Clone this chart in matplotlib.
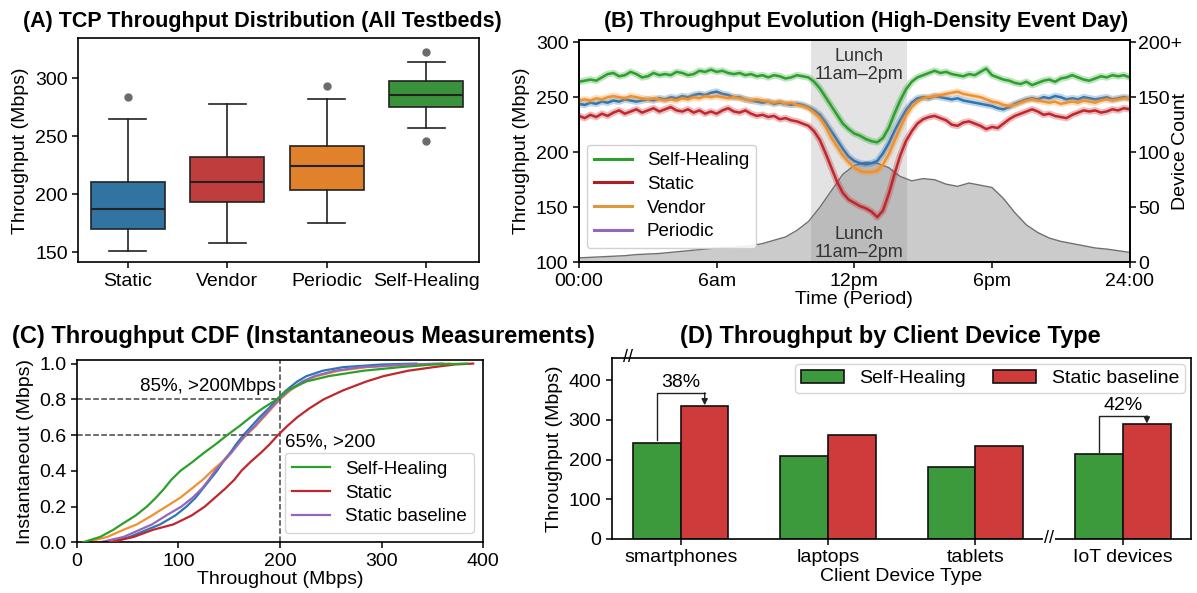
import numpy as np
import matplotlib
matplotlib.use("Agg")
import matplotlib.pyplot as plt
import matplotlib.patheffects as pe
from matplotlib.lines import Line2D

plt.rcParams['font.family'] = ['Liberation Sans', 'DejaVu Sans']
plt.rcParams['axes.linewidth'] = 1.2

# ---------------- Panel A data ----------------
box_labels = ["Static", "Vendor", "Periodic", "Self-Healing"]
box_whislo = [151, 158, 175, 257]
box_q1 = [170, 193, 204, 275]
box_med = [187, 211, 224, 286]
box_q3 = [211, 232, 242, 298]
box_whishi = [265, 278, 282, 314]
box_fliers = [[284], [], [293], [323, 246]]
box_colors = ["#3274a1", "#c03d3e", "#e1812c", "#3a923a"]

# ---------------- Panel B data ----------------
hours = np.arange(0, 24.01, 0.25)
sh_tp = [264, 265, 266, 265, 268, 271, 272, 269, 270, 273, 271, 268, 269, 272, 270, 271,
         270, 273, 272, 270, 271, 274, 273, 275, 273, 274, 272, 271, 272, 270, 271, 269,
         270, 268, 270, 269, 267, 268, 270, 269, 268, 264, 258, 250, 242, 234, 226, 221,
         217, 215, 212, 210, 209, 213, 222, 235, 247, 257, 264, 268, 270, 272, 274, 272,
         273, 271, 270, 269, 271, 270, 273, 276, 270, 268, 266, 265, 263, 262, 264, 261,
         263, 265, 266, 264, 267, 268, 270, 268, 266, 265, 267, 269, 268, 270, 269, 270, 268]
periodic_tp = [244, 243, 245, 244, 246, 245, 247, 246, 248, 247, 246, 247, 248, 247, 249, 248,
               250, 249, 251, 250, 252, 253, 252, 254, 255, 253, 252, 250, 250, 248, 247, 246,
               245, 246, 244, 245, 244, 243, 244, 243, 241, 238, 234, 227, 219, 211, 203, 196,
               192, 190, 189, 190, 192, 199, 208, 219, 229, 238, 245, 249, 250, 249, 251, 250,
               249, 248, 249, 247, 246, 245, 244, 243, 242, 240, 239, 241, 244, 246, 248, 249,
               248, 250, 249, 251, 250, 248, 249, 248, 250, 249, 248, 249, 250, 248, 249, 250, 249]
vendor_tp = [247, 248, 247, 249, 248, 250, 251, 250, 249, 251, 250, 249, 248, 249, 248, 247,
             248, 247, 249, 248, 250, 249, 251, 250, 251, 250, 249, 250, 249, 248, 247, 248,
             247, 246, 245, 246, 244, 245, 243, 242, 240, 236, 231, 223, 213, 205, 197, 191,
             186, 183, 182, 182, 183, 189, 198, 210, 222, 233, 241, 246, 249, 250, 251, 252,
             253, 254, 255, 253, 252, 251, 250, 248, 246, 245, 243, 242, 243, 245, 247, 248,
             247, 246, 245, 246, 244, 245, 246, 245, 247, 246, 245, 247, 248, 247, 248, 249, 249]
static_tp = [233, 231, 234, 232, 235, 233, 236, 238, 235, 237, 239, 236, 238, 240, 237, 239,
             241, 238, 237, 239, 236, 238, 235, 237, 235, 238, 240, 237, 236, 238, 235, 233,
             234, 232, 233, 230, 231, 229, 228, 226, 224, 219, 211, 199, 186, 173, 163, 157,
             154, 151, 149, 146, 141, 147, 162, 180, 197, 210, 219, 226, 230, 232, 233, 231,
             229, 225, 224, 227, 228, 226, 224, 221, 223, 222, 226, 230, 233, 235, 237, 239,
             237, 234, 235, 233, 232, 231, 234, 236, 238, 237, 238, 236, 237, 239, 238, 240, 239]
dev_hours = np.arange(0, 24.01, 0.5)
device_count = [4, 4.5, 5, 5.5, 6, 7, 7.5, 8, 9, 10, 11, 12, 13, 13.5, 14, 15, 17, 20, 23, 29,
                37, 50, 65, 80, 88, 91, 90, 86, 78, 74, 76, 75, 71, 69, 72, 70, 68, 58, 45, 34,
                27, 22, 19, 17, 15, 13, 12, 10.5, 9]
lunch_span = (10.1, 14.3)
time_ticks = [0, 6, 12, 18, 24]
time_labels = ["00:00", "6am", "12pm", "6pm", "24:00"]
dev_ticks = [0, 50, 100, 150, 200]
dev_labels = ["0", "50", "100", "150", "200+"]

# ---------------- Panel C data ----------------
cdf_levels = [0.0, 0.03, 0.07, 0.10, 0.15, 0.20, 0.25, 0.30, 0.35, 0.40, 0.45, 0.50, 0.55,
              0.60, 0.65, 0.70, 0.75, 0.80, 0.85, 0.90, 0.93, 0.96, 0.98, 0.995, 1.0]
cdf_selfheal = [6, 23, 36, 44, 58, 69, 78, 86, 93, 102, 114, 125, 137, 148, 160, 171, 183,
                197, 207, 226, 248, 282, 318, 351, 384]
cdf_blue = [33, 52, 69, 82, 97, 108, 117, 124, 131, 138, 144, 151, 157, 164, 172, 180, 189,
            197, 206, 217, 226, 242, 262, 300, 334]
cdf_orange = [10, 30, 46, 59, 74, 88, 102, 113, 124, 133, 143, 151, 158, 167, 176, 184, 192,
              200, 210, 224, 236, 258, 285, 330, 367]
cdf_baseline = [23, 46, 62, 74, 88, 103, 114, 123, 130, 136, 144, 152, 159, 166, 175, 183, 191,
                199, 209, 222, 234, 254, 280, 325, 360]
cdf_static = [33, 56, 75, 95, 113, 126, 136, 146, 155, 162, 171, 181, 190, 198, 207, 217, 229,
              243, 262, 285, 302, 326, 351, 372, 390]

# ---------------- Panel D data ----------------
device_types = ["smartphones", "laptops", "tablets", "IoT devices"]
selfheal_dev = [243, 209, 182, 213]
static_dev = [336, 261, 235, 290]

C_GREEN = "#2ca02c"
C_RED = "#c0272d"
C_ORANGE = "#f0912e"
C_BLUE = "#2f75b5"
C_PURPLE = "#9467bd"

fig = plt.figure(figsize=(11.97, 5.93), dpi=100)

TICK_FS = 14
LAB_FS = 14
TITLE_TOP_FS = 15.5
TITLE_BOT_FS = 17

# ================= Panel A =================
axA = fig.add_axes([0.0652, 0.5577, 0.335, 0.3777])
stats = []
for i in range(4):
    stats.append(dict(med=box_med[i], q1=box_q1[i], q3=box_q3[i], whislo=box_whislo[i],
                      whishi=box_whishi[i], fliers=box_fliers[i], label=box_labels[i]))
bp = axA.bxp(stats, positions=range(4), widths=0.74, patch_artist=True,
             boxprops=dict(edgecolor="#222222", linewidth=1.2),
             medianprops=dict(color="#222222", linewidth=1.5),
             whiskerprops=dict(color="#222222", linewidth=1.2),
             capprops=dict(color="#222222", linewidth=1.2),
             flierprops=dict(marker="o", markerfacecolor="#6b6b6b", markeredgecolor="#6b6b6b",
                             markersize=5))
for patch, c in zip(bp["boxes"], box_colors):
    patch.set_facecolor(c)
axA.set_xlim(-0.5, 3.53)
axA.set_ylim(141.4, 334.5)
axA.set_yticks([150, 200, 250, 300])
axA.set_ylabel("Throughput (Mbps)", fontsize=LAB_FS)
axA.tick_params(labelsize=TICK_FS, width=1.1, length=4)

# ================= Panel B =================
axB = fig.add_axes([0.4837, 0.5577, 0.460, 0.3749])
axB2 = axB.twinx()
axB.set_zorder(axB2.get_zorder() + 1)
axB.patch.set_visible(False)
axB2.axvspan(lunch_span[0], lunch_span[1], color="#b0b0b0", alpha=0.35, lw=0, zorder=0)
axB2.fill_between(dev_hours, 0, device_count, color="#8c8c8c", alpha=0.45, lw=0, zorder=1)
axB2.plot(dev_hours, device_count, color="#707070", lw=1.0, zorder=2)
axB2.set_ylim(0, 202)
axB2.set_yticks(dev_ticks)
axB2.set_yticklabels(dev_labels)
axB2.set_ylabel("Device Count", fontsize=LAB_FS)
axB2.yaxis.set_label_coords(1.077, 0.5)
axB2.tick_params(labelsize=TICK_FS, width=1.1, length=4, pad=2)


def glow_line(ax, x, y, color, label, lw=1.8):
    ln, = ax.plot(x, y, color=color, lw=lw, label=label,
                  path_effects=[pe.Stroke(linewidth=lw + 3, foreground=color, alpha=0.3),
                                pe.Normal()])
    return ln


glow_line(axB, hours, sh_tp, C_GREEN, "Self-Healing")
glow_line(axB, hours, periodic_tp, C_BLUE, "_nolegend_")
glow_line(axB, hours, vendor_tp, C_ORANGE, "_nolegend_")
glow_line(axB, hours, static_tp, C_RED, "_nolegend_")
handles = [Line2D([], [], color=C_GREEN, lw=2.2), Line2D([], [], color="#b01e24", lw=2.2),
           Line2D([], [], color="#e0963c", lw=2.2), Line2D([], [], color=C_PURPLE, lw=2.2)]
axB.legend(handles, ["Self-Healing", "Static", "Vendor", "Periodic"], loc="lower left",
           bbox_to_anchor=(0.014, 0.065), borderaxespad=0, fontsize=13.5,
           handlelength=2.0, labelspacing=0.35, framealpha=0.9, edgecolor="#cccccc")
axB.text(12.2, 279, "Lunch\n11am\u20132pm", ha="center", va="center", fontsize=13,
         color="#333333", linespacing=1.05)
axB.text(12.2, 117, "Lunch\n11am\u20132pm", ha="center", va="center", fontsize=13,
         color="#333333", linespacing=1.05)
axB.set_xlim(0, 24)
axB.set_ylim(100, 302)
axB.set_yticks([100, 150, 200, 250, 300])
axB.set_xticks(time_ticks)
axB.set_xticklabels(time_labels)
axB.set_xlabel("Time (Period)", fontsize=LAB_FS, labelpad=1)
axB.set_ylabel("Throughput (Mbps)", fontsize=LAB_FS)
axB.tick_params(labelsize=TICK_FS, width=1.1, length=4)

# ================= Panel C =================
axC = fig.add_axes([0.0641, 0.0855, 0.3397, 0.3074])
axC.plot(cdf_orange, cdf_levels, color=C_ORANGE, lw=1.6)
axC.plot(cdf_blue, cdf_levels, color=C_BLUE, lw=1.6)
axC.plot(cdf_baseline, cdf_levels, color=C_PURPLE, lw=1.6, label="Static baseline", zorder=2)
axC.plot(cdf_static, cdf_levels, color=C_RED, lw=1.6, label="Static", zorder=3)
axC.plot(cdf_selfheal, cdf_levels, color=C_GREEN, lw=1.6, label="Self-Healing", zorder=4)
axC.plot([0, 200], [0.8, 0.8], ls="--", color="#444444", lw=1.1)
axC.plot([0, 200], [0.6, 0.6], ls="--", color="#444444", lw=1.1)
axC.axvline(200, ls="--", color="#444444", lw=1.1)
axC.text(196, 0.873, "85%, >200Mbps", ha="right", va="center", fontsize=13.5)
axC.text(205, 0.562, "65%, >200", ha="left", va="center", fontsize=13.5)
h, l = axC.get_legend_handles_labels()
order = [l.index("Self-Healing"), l.index("Static"), l.index("Static baseline")]
axC.legend([h[i] for i in order], [l[i] for i in order], loc="lower right", fontsize=13.5,
           handlelength=2.0, labelspacing=0.35, edgecolor="#cccccc")
axC.set_xlim(0, 400)
axC.set_ylim(0, 1.02)
axC.set_xticks([0, 100, 200, 300, 400])
axC.set_yticks([0, 0.2, 0.4, 0.6, 0.8, 1.0])
axC.set_xlabel("Throughout (Mbps)", fontsize=LAB_FS, labelpad=1)
axC.set_ylabel("Instantaneout (Mbps)", fontsize=LAB_FS)
axC.tick_params(labelsize=TICK_FS, width=1.1, length=4)

# ================= Panel D =================
axD = fig.add_axes([0.511, 0.0911, 0.4837, 0.3052])
x = np.arange(len(device_types))
bw = 0.324
axD.bar(x - bw / 2, selfheal_dev, bw, color="#3c993c", edgecolor="#111111", lw=1.2,
        label="Self-Healing")
axD.bar(x + bw / 2, static_dev, bw, color="#cf3a3a", edgecolor="#111111", lw=1.2,
        label="Static baseline")
axD.set_xlim(-0.468, 3.46)
axD.set_ylim(0, 456)
axD.set_yticks([0, 100, 200, 300, 400])
axD.set_xticks(x)
axD.set_xticklabels(device_types)
axD.set_xlabel("Client Device Type", fontsize=LAB_FS, labelpad=1)
axD.set_ylabel("Throughput (Mbps)", fontsize=LAB_FS)
axD.tick_params(labelsize=TICK_FS, width=1.1, length=4)
axD.legend(loc="upper right", ncol=2, fontsize=14, handlelength=2.2, columnspacing=1.4,
           edgecolor="#cccccc", borderaxespad=0.3, borderpad=0.3)

# improvement brackets
for gi, pct, ytop in [(0, "38%", 368), (3, "42%", 310)]:
    xl = gi - 0.163
    xr = gi + 0.163
    axD.plot([xl, xl, xr], [selfheal_dev[gi] + 6, ytop, ytop], color="#222222", lw=1.0)
    axD.annotate("", xy=(xr, static_dev[gi] + 1), xytext=(xr, ytop),
                 arrowprops=dict(arrowstyle="-|>", color="#222222", lw=1.0,
                                 mutation_scale=9, shrinkA=0, shrinkB=0))
    axD.text(gi, ytop + 4, pct, ha="center", va="bottom", fontsize=14)

# axis break marks
axD.text(-0.36, 456, "//", ha="center", va="center", fontsize=13, clip_on=False)
axD.text(2.5, 0, "//", ha="center", va="center", fontsize=13, clip_on=False,
         bbox=dict(facecolor="white", edgecolor="none", pad=0.5))

# ================= Titles =================
fig.text(262 / 1197, 1 - 22 / 593, "(A) TCP Throughput Distribution (All Testbeds)",
         ha="center", va="center", fontsize=TITLE_TOP_FS, fontweight="bold")
fig.text(866 / 1197, 1 - 22 / 593, "(B) Throughput Evolution (High-Density Event Day)",
         ha="center", va="center", fontsize=TITLE_TOP_FS, fontweight="bold")
fig.text(12 / 1197, 1 - 336 / 593, "(C) Throughput CDF (Instantaneous Measurements)",
         ha="left", va="center", fontsize=TITLE_BOT_FS, fontweight="bold")
fig.text(890 / 1197, 1 - 336 / 593, "(D) Throughput by Client Device Type",
         ha="center", va="center", fontsize=TITLE_BOT_FS, fontweight="bold")

fig.savefig("out.png", dpi=100)
